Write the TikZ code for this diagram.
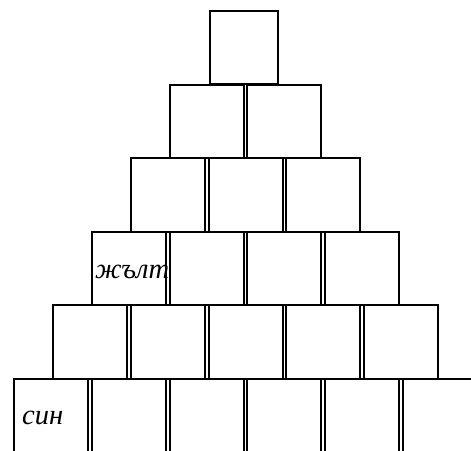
\documentclass[tikz,border=0pt]{standalone}
\usepackage{fontspec}
\setmainfont{Liberation Serif}
\begin{document}
\begin{tikzpicture}[x=1pt,y=-1pt,
  brick/.style={draw=black,line width=2pt,fill=white,inner sep=0pt,outer sep=0pt,
    minimum width=74pt,minimum height=73.6pt,anchor=north west},
  lbl/.style={inner sep=0pt,anchor=base west,font=\itshape\fontsize{28.5}{28.5}\selectfont}]
\useasboundingbox (0,0) rectangle (471,450);
\clip (0,0) rectangle (471,450);
\foreach \r in {2,...,6}{
  \foreach \c in {1,...,\r}{
    \node[brick] (b-\r-\c) at ({14+(6-\r)*38.9+(\c-1)*77.8},{11+(\r-1)*73.6}) {};
  }
}
\node[brick,minimum width=68pt,minimum height=73pt] (b-1-1) at (210,11) {};
\node[lbl] (sin) at (22,424) {син};
\node[lbl] (zhalt) at (95,278) {жълт};
\end{tikzpicture}
\end{document}
